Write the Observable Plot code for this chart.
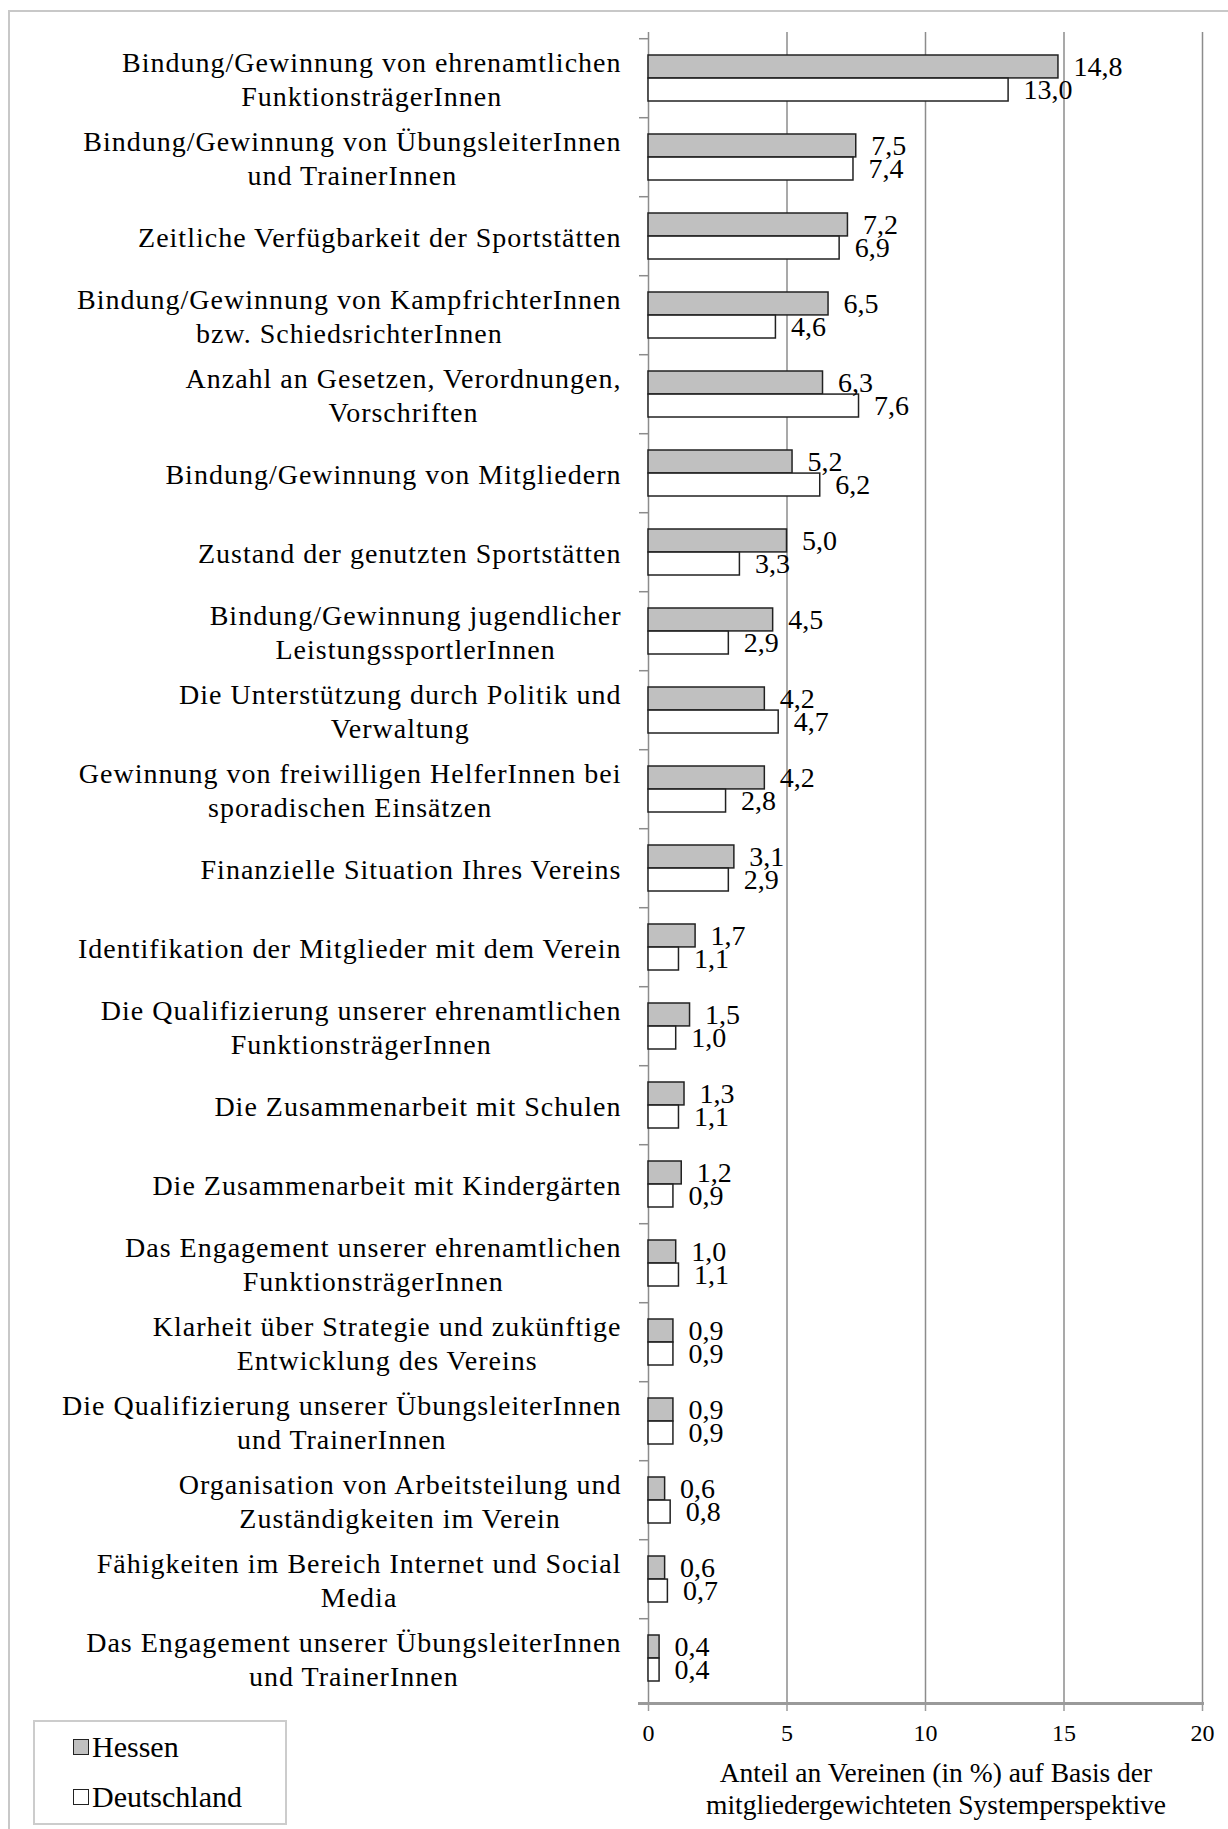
<!DOCTYPE html>
<html>
<head>
<meta charset="utf-8">
<script src="https://cdn.jsdelivr.net/npm/d3@7"></script>
<script src="https://cdn.jsdelivr.net/npm/@observablehq/plot@0.6"></script>
<style>
  body { margin: 0; background: #fff; }
  #wrap { position: relative; width: 1228px; height: 1829px; overflow: hidden;
          font-family: "Liberation Serif", "Times New Roman", serif; color: #000; }
  #outer { position: absolute; left: 8px; top: 10px; width: 1300px; height: 1900px;
           border-left: 2px solid #c8c8c8; border-top: 2px solid #c8c8c8; }
  #chart { position: absolute; left: 0; top: 0; }
  #xtitle { position: absolute; left: 659px; top: 1757px; width: 554px; text-align: center;
            font-size: 27.5px; line-height: 32px; }
  #legend { position: absolute; left: 33px; top: 1720px; width: 254px; height: 105px;
            box-sizing: border-box; border: 2px solid #cccccc; background: #fff; }
  .item { position: absolute; left: 38px; height: 34px; display: flex; align-items: center;
          font-size: 30px; white-space: nowrap; }
  .sw { width: 14px; height: 14px; border: 1.5px solid #222; margin-right: 3px; flex: none; }
</style>
</head>
<body>
<div id="wrap">
  <div id="outer"></div>
  <div id="chart"></div>
  <div id="xtitle"></div>
  <div id="legend"></div>
</div>
<script>
const categories = [
  "Bindung/Gewinnung von ehrenamtlichen\nFunktionsträgerInnen",
  "Bindung/Gewinnung von ÜbungsleiterInnen\nund TrainerInnen",
  "Zeitliche Verfügbarkeit der Sportstätten",
  "Bindung/Gewinnung von KampfrichterInnen\nbzw. SchiedsrichterInnen",
  "Anzahl an Gesetzen, Verordnungen,\nVorschriften",
  "Bindung/Gewinnung von Mitgliedern",
  "Zustand der genutzten Sportstätten",
  "Bindung/Gewinnung jugendlicher\nLeistungssportlerInnen",
  "Die Unterstützung durch Politik und\nVerwaltung",
  "Gewinnung von freiwilligen HelferInnen bei\nsporadischen Einsätzen",
  "Finanzielle Situation Ihres Vereins",
  "Identifikation der Mitglieder mit dem Verein",
  "Die Qualifizierung unserer ehrenamtlichen\nFunktionsträgerInnen",
  "Die Zusammenarbeit mit Schulen",
  "Die Zusammenarbeit mit Kindergärten",
  "Das Engagement unserer ehrenamtlichen\nFunktionsträgerInnen",
  "Klarheit über Strategie und zukünftige\nEntwicklung des Vereins",
  "Die Qualifizierung unserer ÜbungsleiterInnen\nund TrainerInnen",
  "Organisation von Arbeitsteilung und\nZuständigkeiten im Verein",
  "Fähigkeiten im Bereich Internet und Social\nMedia",
  "Das Engagement unserer ÜbungsleiterInnen\nund TrainerInnen"
];
const hessen      = [14.8, 7.5, 7.2, 6.5, 6.3, 5.2, 5.0, 4.5, 4.2, 4.2, 3.1, 1.7, 1.5, 1.3, 1.2, 1.0, 0.9, 0.9, 0.6, 0.6, 0.4];
const deutschland = [13.0, 7.4, 6.9, 4.6, 7.6, 6.2, 3.3, 2.9, 4.7, 2.8, 2.9, 1.1, 1.0, 1.1, 0.9, 1.1, 0.9, 0.9, 0.8, 0.7, 0.4];
const seriesNames = ["Hessen", "Deutschland"];
const seriesFills = ["#c0c0c0", "#ffffff"];
const xTicks = [0, 5, 10, 15, 20];
const xTitle = ["Anteil an Vereinen (in %) auf Basis der", "mitgliedergewichteten Systemperspektive"];

const FONT = '"Liberation Serif", "Times New Roman", serif';
const W = 1228, H = 1829, mTop = 32, mBottom = 126, mLeft = 648, mRight = 26;
const step = (H - mTop - mBottom) / categories.length;
const pInner = 0.42;
const half = step * (1 - pInner) / 2;

const hRows = categories.map((c, i) => ({category: c, series: seriesNames[0], value: hessen[i]}));
const dRows = categories.map((c, i) => ({category: c, series: seriesNames[1], value: deutschland[i]}));
const fmt = v => v.toFixed(1).replace(".", ",");

const chart = Plot.plot({
  width: W, height: H,
  marginTop: mTop, marginBottom: mBottom, marginLeft: mLeft, marginRight: mRight,
  style: {fontFamily: FONT, background: "transparent", color: "#000"},
  x: {domain: [0, 20]},
  y: {domain: categories, paddingInner: pInner, paddingOuter: pInner / 2},
  marks: [
    Plot.gridX({ticks: xTicks.slice(1), stroke: "#8c8c8c", strokeOpacity: 1, strokeWidth: 1.5}),
    Plot.ruleX([0], {stroke: "#8c8c8c", strokeWidth: 1.5}),
    Plot.axisY({fill: "none", tickSize: 9, stroke: "#8c8c8c", strokeWidth: 1.5, dy: -step / 2, label: null}),
    Plot.frame({anchor: "bottom", stroke: "#9a9a9a", strokeWidth: 3, insetLeft: -9}),
    Plot.barX(hRows, {x: "value", y: "category", fill: seriesFills[0], stroke: "#222", strokeWidth: 1.5, insetBottom: half}),
    Plot.barX(dRows, {x: "value", y: "category", fill: seriesFills[1], stroke: "#222", strokeWidth: 1.5, insetTop: half}),
    Plot.text(hRows, {x: "value", y: "category", text: d => fmt(d.value), dx: 15, dy: -half / 2, textAnchor: "start", fontSize: 28, fill: "#000"}),
    Plot.text(dRows, {x: "value", y: "category", text: d => fmt(d.value), dx: 15, dy: half / 2, textAnchor: "start", fontSize: 28, fill: "#000"}),
    Plot.axisY({tickSize: 0, tickPadding: 27, fontSize: 28, lineHeight: 1.21, label: null, fill: "#000"}),
    Plot.axisX({ticks: xTicks, tickSize: 8, tickPadding: 12, stroke: "#9a9a9a", strokeWidth: 1.5, fill: "#000", fontSize: 24, label: null})
  ]
});
document.getElementById("chart").appendChild(chart);

// slightly wider letter spacing as in the reference, and centre multi-line labels within their right-aligned block
d3.select(chart).selectAll('g[aria-label="y-axis tick label"] text').each(function () {
  const t = d3.select(this);
  t.style("letter-spacing", "1px");
  const w = this.getBBox().width;
  t.attr("text-anchor", "middle");
  t.attr("transform", (t.attr("transform") || "") + ` translate(${-w / 2},0)`);
});

document.getElementById("xtitle").innerHTML = xTitle.join("<br>");

const legend = document.getElementById("legend");
seriesNames.forEach((name, i) => {
  const it = document.createElement("div");
  it.className = "item";
  it.style.top = (8 + i * 50) + "px";
  const sw = document.createElement("div");
  sw.className = "sw";
  sw.style.background = seriesFills[i];
  it.appendChild(sw);
  it.appendChild(document.createTextNode(name));
  legend.appendChild(it);
});
</script>
</body>
</html>
